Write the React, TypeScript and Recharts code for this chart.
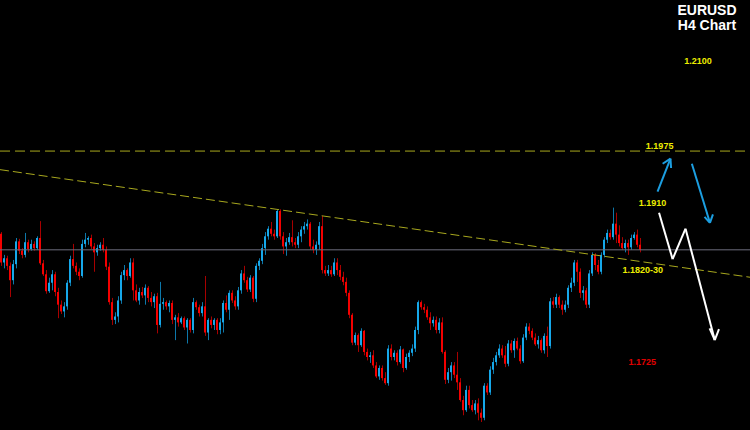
import React from 'react';
import { ComposedChart, Bar, XAxis, YAxis, ReferenceLine, ReferenceDot } from 'recharts';

// EURUSD H4 candles (open = previous close)
const firstOpen = 1.1877;

const closes = [
  1.1843, 1.1848, 1.1839, 1.1822, 1.1841, 1.1868, 1.1857, 1.1852, 1.1867, 1.1859,
  1.1865, 1.1860, 1.1872, 1.1842, 1.1829, 1.1809, 1.1819, 1.1829, 1.1808, 1.1793,
  1.1785, 1.1791, 1.1819, 1.1847, 1.1839, 1.1832, 1.1827, 1.1865, 1.1870, 1.1872,
  1.1862, 1.1855, 1.1860, 1.1864, 1.1858, 1.1838, 1.1796, 1.1775, 1.1779, 1.1798,
  1.1828, 1.1834, 1.1827, 1.1843, 1.1810, 1.1798, 1.1808, 1.1804, 1.1813, 1.1801,
  1.1796, 1.1803, 1.1769, 1.1794, 1.1796, 1.1791, 1.1795, 1.1775, 1.1778, 1.1772,
  1.1777, 1.1766, 1.1775, 1.1763, 1.1796, 1.1790, 1.1783, 1.1791, 1.1760, 1.1775,
  1.1769, 1.1775, 1.1763, 1.1772, 1.1795, 1.1787, 1.1807, 1.1798, 1.1791, 1.1810,
  1.1830, 1.1822, 1.1811, 1.1825, 1.1800, 1.1839, 1.1845, 1.1860, 1.1874, 1.1883,
  1.1877, 1.1874, 1.1904, 1.1874, 1.1862, 1.1867, 1.1873, 1.1867, 1.1864, 1.1874,
  1.1882, 1.1886, 1.1889, 1.1862, 1.1858, 1.1864, 1.1886, 1.1834, 1.1830, 1.1834,
  1.1829, 1.1843, 1.1834, 1.1826, 1.1820, 1.1807, 1.1781, 1.1748, 1.1757, 1.1745,
  1.1762, 1.1737, 1.1731, 1.1733, 1.1721, 1.1708, 1.1718, 1.1706, 1.1700, 1.1741,
  1.1731, 1.1736, 1.1725, 1.1740, 1.1718, 1.1731, 1.1736, 1.1741, 1.1763, 1.1796,
  1.1790, 1.1787, 1.1778, 1.1771, 1.1775, 1.1763, 1.1772, 1.1737, 1.1704, 1.1713,
  1.1721, 1.1710, 1.1701, 1.1680, 1.1668, 1.1692, 1.1674, 1.1668, 1.1676, 1.1665,
  1.1659, 1.1697, 1.1689, 1.1716, 1.1725, 1.1733, 1.1741, 1.1733, 1.1723, 1.1747,
  1.1739, 1.1750, 1.1741, 1.1726, 1.1754, 1.1767, 1.1762, 1.1754, 1.1746, 1.1751,
  1.1739, 1.1756, 1.1744, 1.1797, 1.1793, 1.1802, 1.1793, 1.1787, 1.1793, 1.1813,
  1.1819, 1.1843, 1.1832, 1.1807, 1.1810, 1.1793, 1.1830, 1.1852, 1.1840, 1.1832,
  1.1852, 1.1870, 1.1878, 1.1873, 1.1889, 1.1876, 1.1866, 1.1860, 1.1866, 1.1861,
  1.1872, 1.1876, 1.1864, 1.1858,
];

const highs = [
  1.1879, 1.1852, 1.1851, 1.1843, 1.1846, 1.1872, 1.1871, 1.1860, 1.1878, 1.1870,
  1.1870, 1.1868, 1.1874, 1.1892, 1.1846, 1.1834, 1.1825, 1.1834, 1.1832, 1.1813,
  1.1798, 1.1796, 1.1822, 1.1851, 1.1865, 1.1843, 1.1836, 1.1870, 1.1878, 1.1874,
  1.1876, 1.1866, 1.1864, 1.1867, 1.1872, 1.1862, 1.1843, 1.1801, 1.1784, 1.1803,
  1.1832, 1.1840, 1.1836, 1.1848, 1.1848, 1.1817, 1.1813, 1.1814, 1.1817, 1.1815,
  1.1808, 1.1806, 1.1807, 1.1820, 1.1801, 1.1798, 1.1798, 1.1798, 1.1781, 1.1783,
  1.1779, 1.1779, 1.1777, 1.1777, 1.1801, 1.1798, 1.1793, 1.1796, 1.1827, 1.1777,
  1.1779, 1.1777, 1.1777, 1.1777, 1.1798, 1.1804, 1.1810, 1.1810, 1.1803, 1.1814,
  1.1834, 1.1839, 1.1826, 1.1828, 1.1827, 1.1842, 1.1848, 1.1865, 1.1879, 1.1886,
  1.1891, 1.1882, 1.1906, 1.1906, 1.1879, 1.1872, 1.1878, 1.1893, 1.1872, 1.1879,
  1.1886, 1.1891, 1.1894, 1.1891, 1.1870, 1.1868, 1.1891, 1.1898, 1.1839, 1.1840,
  1.1839, 1.1848, 1.1848, 1.1840, 1.1832, 1.1825, 1.1810, 1.1783, 1.1760, 1.1759,
  1.1765, 1.1763, 1.1741, 1.1737, 1.1739, 1.1725, 1.1721, 1.1721, 1.1713, 1.1745,
  1.1746, 1.1739, 1.1739, 1.1744, 1.1741, 1.1735, 1.1739, 1.1746, 1.1767, 1.1798,
  1.1798, 1.1794, 1.1791, 1.1784, 1.1779, 1.1779, 1.1777, 1.1778, 1.1739, 1.1718,
  1.1725, 1.1725, 1.1737, 1.1706, 1.1685, 1.1697, 1.1697, 1.1680, 1.1680, 1.1682,
  1.1670, 1.1700, 1.1700, 1.1720, 1.1730, 1.1737, 1.1746, 1.1745, 1.1744, 1.1751,
  1.1751, 1.1753, 1.1754, 1.1745, 1.1758, 1.1771, 1.1771, 1.1765, 1.1759, 1.1756,
  1.1753, 1.1759, 1.1767, 1.1801, 1.1802, 1.1806, 1.1804, 1.1798, 1.1798, 1.1816,
  1.1825, 1.1846, 1.1846, 1.1836, 1.1815, 1.1813, 1.1834, 1.1855, 1.1854, 1.1846,
  1.1855, 1.1873, 1.1882, 1.1882, 1.1908, 1.1902, 1.1887, 1.1873, 1.1870, 1.1870,
  1.1876, 1.1879, 1.1882, 1.1872,
];

const lows = [
  1.1839, 1.1836, 1.1834, 1.1802, 1.1817, 1.1836, 1.1853, 1.1848, 1.1849, 1.1855,
  1.1857, 1.1857, 1.1858, 1.1840, 1.1827, 1.1806, 1.1807, 1.1810, 1.1803, 1.1777,
  1.1782, 1.1778, 1.1787, 1.1815, 1.1836, 1.1828, 1.1822, 1.1825, 1.1861, 1.1864,
  1.1859, 1.1832, 1.1851, 1.1857, 1.1855, 1.1834, 1.1793, 1.1769, 1.1770, 1.1772,
  1.1794, 1.1822, 1.1822, 1.1825, 1.1798, 1.1796, 1.1793, 1.1801, 1.1793, 1.1796,
  1.1791, 1.1789, 1.1759, 1.1766, 1.1787, 1.1787, 1.1784, 1.1770, 1.1751, 1.1767,
  1.1770, 1.1763, 1.1747, 1.1760, 1.1759, 1.1787, 1.1779, 1.1779, 1.1756, 1.1751,
  1.1765, 1.1763, 1.1758, 1.1758, 1.1760, 1.1784, 1.1775, 1.1795, 1.1787, 1.1787,
  1.1806, 1.1819, 1.1808, 1.1808, 1.1796, 1.1796, 1.1834, 1.1841, 1.1852, 1.1870,
  1.1874, 1.1870, 1.1872, 1.1870, 1.1853, 1.1851, 1.1864, 1.1862, 1.1860, 1.1860,
  1.1867, 1.1877, 1.1882, 1.1858, 1.1854, 1.1852, 1.1858, 1.1830, 1.1827, 1.1827,
  1.1826, 1.1827, 1.1828, 1.1822, 1.1816, 1.1803, 1.1777, 1.1745, 1.1745, 1.1737,
  1.1743, 1.1733, 1.1727, 1.1724, 1.1718, 1.1706, 1.1704, 1.1703, 1.1698, 1.1697,
  1.1727, 1.1727, 1.1721, 1.1723, 1.1713, 1.1716, 1.1725, 1.1732, 1.1737, 1.1758,
  1.1787, 1.1783, 1.1775, 1.1763, 1.1767, 1.1759, 1.1759, 1.1735, 1.1699, 1.1700,
  1.1703, 1.1706, 1.1692, 1.1678, 1.1662, 1.1666, 1.1670, 1.1666, 1.1663, 1.1656,
  1.1654, 1.1656, 1.1686, 1.1686, 1.1711, 1.1721, 1.1730, 1.1730, 1.1719, 1.1720,
  1.1736, 1.1730, 1.1739, 1.1723, 1.1724, 1.1751, 1.1758, 1.1751, 1.1744, 1.1741,
  1.1736, 1.1735, 1.1731, 1.1741, 1.1789, 1.1789, 1.1789, 1.1781, 1.1784, 1.1789,
  1.1808, 1.1815, 1.1820, 1.1801, 1.1798, 1.1789, 1.1789, 1.1827, 1.1834, 1.1829,
  1.1829, 1.1849, 1.1866, 1.1870, 1.1870, 1.1866, 1.1862, 1.1858, 1.1855, 1.1852,
  1.1858, 1.1870, 1.1861, 1.1855,
];

// chart window holds 250 bar slots, the last ones empty
const SLOTS = 250;
const priceMin = 1.16445;
const priceMax = 1.2154;

const resistance = 1.1975;
const lastPrice = 1.1858;
const trendLine = [1.1953, 1.1825];

const levelTexts = ['1.2100', '1.1975', '1.1910', '1.1820-30', '1.1725'];
const levelPrices = [1.2082, 1.1981, 1.1914, 1.1834, 1.1725];

const candles = Array.from({ length: SLOTS }, (_, i) => {
  if (i >= closes.length) return { i, range: null };
  const open = i === 0 ? firstOpen : closes[i - 1];
  const close = closes[i];
  const high = Math.max(highs[i], open, close);
  const low = Math.min(lows[i], open, close);
  return { i, open, close, high, low, range: [low, high] };
});

const UP = '#16a8ea';
const UP_WICK = '#0d78aa';
const DOWN = '#f40000';
const DOWN_WICK = '#a80000';

const Candle = (props: any) => {
  const { x, y, width, height } = props;
  const d = props.payload ?? props;
  if (!d || d.range == null) return null;
  const { open, close, high, low } = d;
  const top = Math.min(y, y + height);
  const h = Math.abs(height);
  const k = high > low ? h / (high - low) : 0;
  const py = (v: number) => top + (high - v) * k;
  const cx = x + width / 2;
  const up = close >= open;
  const bTop = py(Math.max(open, close));
  const bBot = py(Math.min(open, close));
  return (
    <g>
      <rect x={Math.floor(cx)} y={top} width={1} height={Math.max(h, 1)} fill={up ? UP_WICK : DOWN_WICK} />
      <rect x={Math.round(cx - 1)} y={bTop} width={2} height={Math.max(bBot - bTop, 1)} fill={up ? UP : DOWN} />
    </g>
  );
};

const BLUE = '#1c9ee0';
const YELLOW = '#eeee00';
const DASH = '#a8a81e';

const seg = (a: [number, number], b: [number, number], color: string, key: string) => (
  <ReferenceLine
    key={key}
    xAxisId="n"
    yAxisId="p"
    segment={[{ x: a[0], y: a[1] }, { x: b[0], y: b[1] }]}
    stroke={color}
    strokeWidth={2}
    ifOverflow="visible"
  />
);

const labelStyle = (color: string) => ({
  fill: color,
  fontSize: 9,
  fontWeight: 700,
  position: 'center' as const,
});

export default function App() {
  return (
    <div
      style={{
        position: 'fixed',
        left: 0,
        top: 0,
        width: 750,
        height: 430,
        background: '#000',
        fontFamily: '"Liberation Sans", Arial, sans-serif',
      }}
    >
      <ComposedChart
        width={750}
        height={430}
        data={candles}
        margin={{ top: 0, right: 0, bottom: 0, left: 0 }}
        barCategoryGap={0}
      >
        <XAxis xAxisId="c" dataKey="i" type="category" hide />
        <XAxis xAxisId="n" type="number" domain={[0, SLOTS]} hide allowDataOverflow />
        <YAxis yAxisId="p" type="number" domain={[priceMin, priceMax]} hide allowDataOverflow />

        <ReferenceLine xAxisId="n" yAxisId="p" y={lastPrice} stroke="#6c6c7c" strokeWidth={1} />
        <ReferenceLine xAxisId="n" yAxisId="p" y={resistance} stroke={DASH} strokeWidth={1} strokeDasharray="10 5" />
        <ReferenceLine
          xAxisId="n"
          yAxisId="p"
          segment={[{ x: 0, y: trendLine[0] }, { x: SLOTS, y: trendLine[1] }]}
          stroke={DASH}
          strokeWidth={1}
          strokeDasharray="9 4"
          ifOverflow="visible"
        />

        <Bar xAxisId="c" yAxisId="p" dataKey="range" barSize={3} shape={<Candle />} isAnimationActive={false} />

        {/* blue: up to resistance, then down */}
        {seg([218.3, 1.1927], [222.6, 1.1966], BLUE, 'b1')}
        {seg([222.6, 1.1966], [220.0, 1.1960], BLUE, 'b1a')}
        {seg([222.6, 1.1966], [222.8, 1.1955], BLUE, 'b1b')}
        {seg([229.7, 1.1960], [235.7, 1.1890], BLUE, 'b2')}
        {seg([235.7, 1.1890], [233.9, 1.1897], BLUE, 'b2a')}
        {seg([235.7, 1.1890], [236.7, 1.1900], BLUE, 'b2b')}

        {/* white: dip, retest, then fall */}
        {seg([218.8, 1.1902], [223.3, 1.1847], '#ffffff', 'w1')}
        {seg([223.3, 1.1847], [227.6, 1.1883], '#ffffff', 'w2')}
        {seg([227.6, 1.1883], [237.3, 1.1751], '#ffffff', 'w3')}
        {seg([237.3, 1.1751], [235.6, 1.1765], '#ffffff', 'w3a')}
        {seg([237.3, 1.1751], [238.7, 1.1764], '#ffffff', 'w3b')}

        <ReferenceDot xAxisId="n" yAxisId="p" x={231.7} y={levelPrices[0]} r={0} fill="none" stroke="none" label={{ value: levelTexts[0], ...labelStyle(YELLOW) }} />
        <ReferenceDot xAxisId="n" yAxisId="p" x={219.0} y={levelPrices[1]} r={0} fill="none" stroke="none" label={{ value: levelTexts[1], ...labelStyle(YELLOW) }} />
        <ReferenceDot xAxisId="n" yAxisId="p" x={216.6} y={levelPrices[2]} r={0} fill="none" stroke="none" label={{ value: levelTexts[2], ...labelStyle(YELLOW) }} />
        <ReferenceDot xAxisId="n" yAxisId="p" x={213.4} y={levelPrices[3]} r={0} fill="none" stroke="none" label={{ value: levelTexts[3], ...labelStyle(YELLOW) }} />
        <ReferenceDot xAxisId="n" yAxisId="p" x={213.2} y={levelPrices[4]} r={0} fill="none" stroke="none" label={{ value: levelTexts[4], ...labelStyle('#e00000') }} />
      </ComposedChart>
      <div
        style={{
          position: 'absolute',
          left: 668,
          top: 3,
          width: 78,
          textAlign: 'center',
          color: '#fff',
          fontWeight: 700,
          fontSize: 14,
          lineHeight: '15px',
        }}
      >
        <div>EURUSD</div>
        <div>H4 Chart</div>
      </div>
    </div>
  );
}
